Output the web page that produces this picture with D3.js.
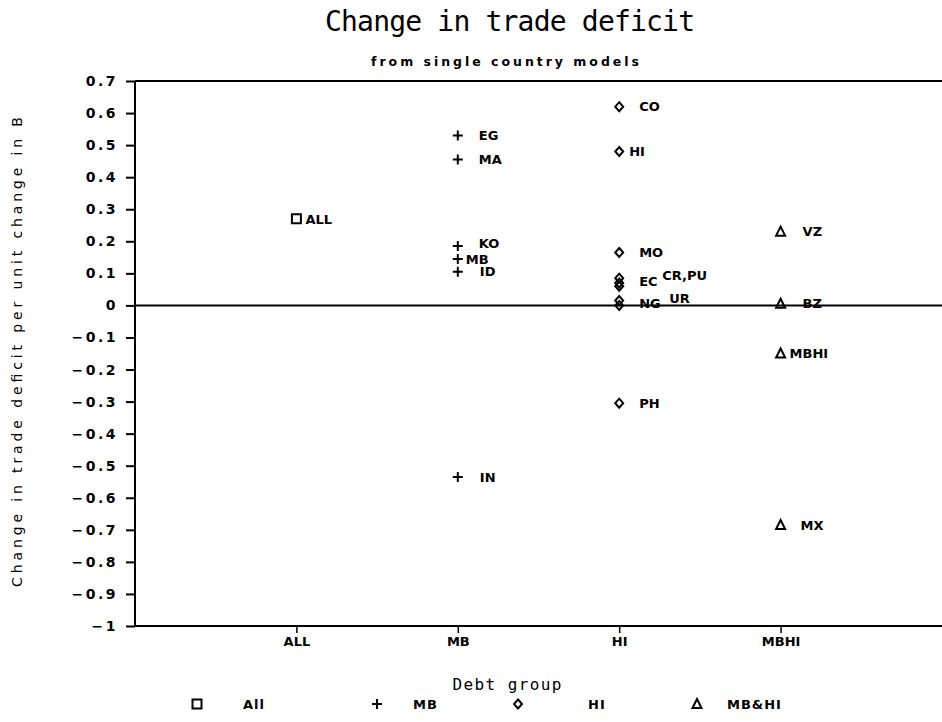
<!DOCTYPE html>
<html>
<head>
<meta charset="utf-8">
<script src="https://cdn.jsdelivr.net/npm/d3@7"></script>
<style>
  body { margin: 0; background: #fff; }
  text { fill: #000; }
</style>
</head>
<body>
<div id="chart"></div>
<script>
// Change in trade deficit, single country models

var groups = ["ALL", "MB", "HI", "MBHI"];
var countries = ["ALL", "EG", "MA", "KO", "MB", "ID", "IN",
                 "CO", "HI", "MO", "EC", "CR", "PU", "NG", "UR", "PH",
                 "VZ", "BZ", "MBHI", "MX"];
var groupOf = ["ALL", "MB", "MB", "MB", "MB", "MB", "MB",
               "HI", "HI", "HI", "HI", "HI", "HI", "HI", "HI", "HI",
               "MBHI", "MBHI", "MBHI", "MBHI"];
var change = [0.27, 0.53, 0.455, 0.185, 0.145, 0.105, -0.535,
              0.62, 0.48, 0.165, 0.085, 0.07, 0.06, 0.015, 0.0, -0.305,
              0.23, 0.005, -0.15, -0.685];
var pointLabels = ["ALL", "EG", "MA", "KO", "MB", "ID", "IN",
                   "CO", "HI", "MO", "EC", "CR,PU", "", "NG", "UR", "PH",
                   "VZ", "BZ", "MBHI", "MX"];
var yTicks = [0.7, 0.6, 0.5, 0.4, 0.3, 0.2, 0.1, 0, -0.1, -0.2, -0.3, -0.4,
              -0.5, -0.6, -0.7, -0.8, -0.9, -1];
var legendNames = ["All", "MB", "HI", "MB&HI"];

// label nudges (px) so the crowded names sit like in the original
var labelNudge = {
  ALL: [9, 0], EG: [21, 0], MA: [21, 0], KO: [21, -3], MB: [8, 0], ID: [22, 0],
  IN: [22, 0], CO: [20, 0], HI: [10, 0], MO: [20, 0], EC: [20, 3], CR: [43, -8],
  NG: [20, 3], UR: [50, -7], PH: [20, 0], VZ: [22, 0], BZ: [22, 0], MBHI: [9, 0], MX: [20, 0]
};

var width = 942, height = 722;
var svg = d3.select("#chart").append("svg")
  .attr("width", width)
  .attr("height", height);

var x = d3.scaleLinear().domain([0, groups.length + 1]).range([135, 942]);
var y = d3.scaleLinear().domain([-1, 0.7]).range([626, 81]);

var font = "DejaVu Sans, Verdana, sans-serif";

// titles
svg.append("text")
  .attr("x", 510).attr("y", 31)
  .attr("text-anchor", "middle")
  .attr("font-family", "DejaVu Sans Mono, monospace")
  .attr("font-size", 28)
  .attr("textLength", 370).attr("lengthAdjust", "spacing")
  .text("Change in trade deficit");

svg.append("text")
  .attr("x", 505).attr("y", 66)
  .attr("text-anchor", "middle")
  .attr("font-family", font)
  .attr("font-weight", "bold")
  .attr("font-size", 12.5)
  .attr("textLength", 268).attr("lengthAdjust", "spacing")
  .text("from single country models");

// y axis
var yAxis = svg.append("g")
  .attr("transform", "translate(" + x(0) + ",0)")
  .call(d3.axisLeft(y).tickValues(yTicks).tickSize(9).tickPadding(8));
yAxis.select(".domain").attr("stroke-width", 2).attr("d", "M0," + y(0.7) + "V" + y(-1));
yAxis.selectAll(".tick line").attr("stroke-width", 2);
yAxis.selectAll(".tick text")
  .attr("font-family", font).attr("font-weight", "bold")
  .attr("font-size", 14).attr("letter-spacing", 2.5)
  .text(function(d) { return d3.format("")(+d.toFixed(1)); });

// x axis
var xAxis = svg.append("g")
  .attr("transform", "translate(0," + y(-1) + ")")
  .call(d3.axisBottom(x).tickValues(d3.range(1, groups.length + 1)).tickSize(7).tickPadding(4)
    .tickFormat(function(d) { return groups[d - 1]; }));
xAxis.select(".domain").attr("stroke-width", 2).attr("d", "M" + x(0) + ",0H" + width);
xAxis.selectAll(".tick line").attr("stroke-width", 1.5);
xAxis.selectAll(".tick text")
  .attr("font-family", font).attr("font-weight", "bold").attr("font-size", 13);

// top frame line and zero reference
svg.append("line")
  .attr("x1", x(0)).attr("x2", width)
  .attr("y1", y(0.7)).attr("y2", y(0.7))
  .attr("stroke", "#000").attr("stroke-width", 2);
svg.append("line")
  .attr("x1", x(0)).attr("x2", width)
  .attr("y1", y(0)).attr("y2", y(0))
  .attr("stroke", "#000").attr("stroke-width", 2);

// axis titles
svg.append("text")
  .attr("transform", "translate(22," + 352 + ") rotate(-90)")
  .attr("text-anchor", "middle")
  .attr("font-family", font)
  .attr("font-size", 14)
  .attr("textLength", 470).attr("lengthAdjust", "spacing")
  .text("Change in trade deficit per unit change in B");

svg.append("text")
  .attr("x", 507).attr("y", 690)
  .attr("text-anchor", "middle")
  .attr("font-family", "DejaVu Sans Mono, monospace")
  .attr("font-size", 16)
  .attr("textLength", 109).attr("lengthAdjust", "spacing")
  .text("Debt group");

// marker shapes (plotter style, small and open)
var markerPaths = {
  ALL: "M-4.5,-4.5H4.5V4.5H-4.5Z",
  MB: "M-5,0H5M0,-5V5",
  HI: "M0,-4.5L4,0L0,4.5L-4,0Z",
  MBHI: "M0,-5L4.5,4L-4.5,4Z"
};
function markerPath(g) { return markerPaths[g]; }

var pts = countries.map(function(c, i) {
  return { name: c, group: groupOf[i], value: change[i], label: pointLabels[i] };
});

svg.append("g").selectAll("path")
  .data(pts)
  .enter().append("path")
  .attr("transform", function(d) {
    return "translate(" + x(groups.indexOf(d.group) + 1) + "," + y(d.value) + ")";
  })
  .attr("d", function(d) { return markerPath(d.group); })
  .attr("fill", "none")
  .attr("stroke", "#000")
  .attr("stroke-width", 2);

svg.append("g").selectAll("text")
  .data(pts.filter(function(d) { return d.label !== ""; }))
  .enter().append("text")
  .attr("x", function(d) { return x(groups.indexOf(d.group) + 1) + labelNudge[d.name][0]; })
  .attr("y", function(d) { return y(d.value) + labelNudge[d.name][1]; })
  .attr("dy", "0.36em")
  .attr("font-family", font)
  .attr("font-weight", "bold")
  .attr("font-size", 13)
  .text(function(d) { return d.label; });

// legend
var legendX = [197, 377, 518, 697];
var legendTextX = [243, 413, 588, 727];
var lg = svg.append("g");
lg.selectAll("path")
  .data(groups)
  .enter().append("path")
  .attr("transform", function(d, i) { return "translate(" + legendX[i] + ",704)"; })
  .attr("d", function(d) { return markerPath(d); })
  .attr("fill", "none").attr("stroke", "#000").attr("stroke-width", 2);
lg.selectAll("text")
  .data(legendNames)
  .enter().append("text")
  .attr("x", function(d, i) { return legendTextX[i]; })
  .attr("y", 704).attr("dy", "0.36em")
  .attr("font-family", font).attr("font-weight", "bold").attr("font-size", 13)
  .attr("letter-spacing", 1)
  .text(function(d) { return d; });
</script>
</body>
</html>
